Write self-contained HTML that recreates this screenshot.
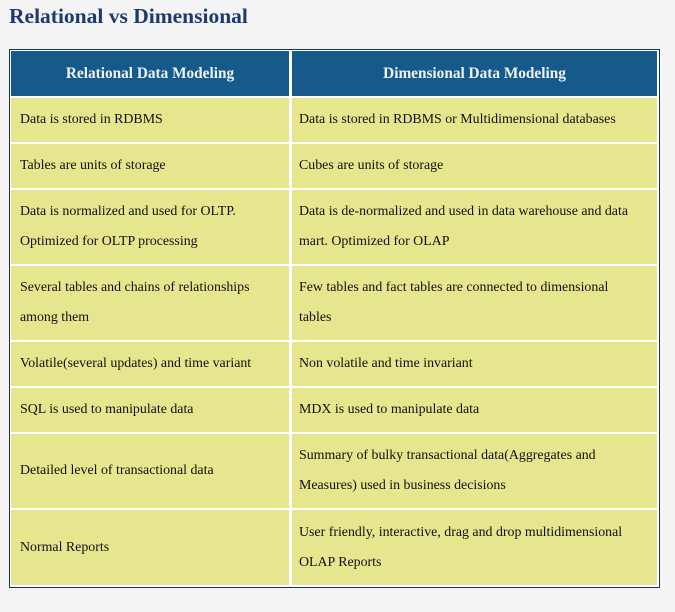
<!DOCTYPE html>
<html><head><style>
body{margin:0;width:675px;height:612px;background:#f4f4f4;position:relative;overflow:hidden;font-family:"Liberation Serif",serif;}
h1{position:absolute;left:9px;top:4px;margin:0;font-size:21.5px;color:#1c3a72;font-weight:bold;}
#t{position:absolute;left:9px;top:49px;width:649px;height:537px;border:1px solid #1b2f55;background:#fff;}
.c{position:absolute;background:#e6e68e;color:#111;font-size:13.9px;line-height:30px;display:flex;align-items:center;box-sizing:border-box;padding-left:9px;white-space:nowrap;}
.h{background:#155a8a;color:#eef3f7;font-weight:bold;font-size:15.3px;justify-content:center;padding-left:0;}
.a{left:1px;width:278px}.b{left:282px;width:365px;padding-left:7px}
</style></head><body>
<h1>Relational vs Dimensional</h1>
<div id="t">
<div class="c h a" style="top:1px;height:45px">Relational Data Modeling</div>
<div class="c h b" style="top:1px;height:45px;padding-left:0">Dimensional Data Modeling</div>
<div class="c a" style="top:48px;height:44px">Data is stored in RDBMS</div>
<div class="c b" style="top:48px;height:44px">Data is stored in RDBMS or Multidimensional databases</div>
<div class="c a" style="top:94px;height:44px">Tables are units of storage</div>
<div class="c b" style="top:94px;height:44px">Cubes are units of storage</div>
<div class="c a" style="top:140px;height:74px">Data is normalized and used for OLTP.<br>Optimized for OLTP processing</div>
<div class="c b" style="top:140px;height:74px">Data is de-normalized and used in data warehouse and data<br>mart. Optimized for OLAP</div>
<div class="c a" style="top:216px;height:74px">Several tables and chains of relationships<br>among them</div>
<div class="c b" style="top:216px;height:74px">Few tables and fact tables are connected to dimensional<br>tables</div>
<div class="c a" style="top:292px;height:44px">Volatile(several updates) and time variant</div>
<div class="c b" style="top:292px;height:44px">Non volatile and time invariant</div>
<div class="c a" style="top:338px;height:44px">SQL is used to manipulate data</div>
<div class="c b" style="top:338px;height:44px">MDX is used to manipulate data</div>
<div class="c a" style="top:384px;height:74px">Detailed level of transactional data</div>
<div class="c b" style="top:384px;height:74px">Summary of bulky transactional data(Aggregates and<br>Measures) used in business decisions</div>
<div class="c a" style="top:460px;height:75px">Normal Reports</div>
<div class="c b" style="top:460px;height:75px">User friendly, interactive, drag and drop multidimensional<br>OLAP Reports</div>
</div>
</body></html>
